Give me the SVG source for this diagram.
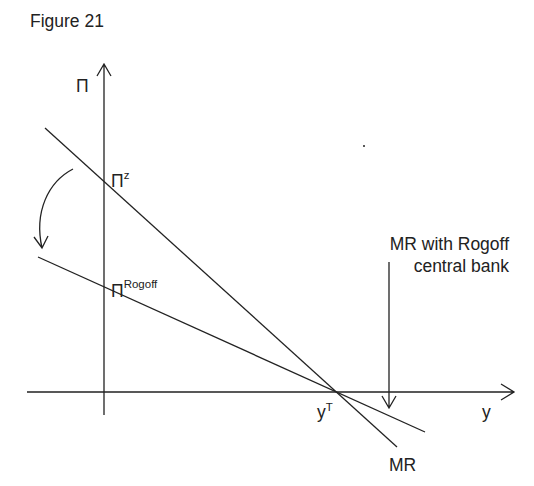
<svg xmlns="http://www.w3.org/2000/svg" width="534" height="486" viewBox="0 0 534 486">
<style>
.ln{stroke:#222;stroke-width:1.3;fill:none}
text{font-family:"Liberation Sans",Arial,sans-serif;fill:#222;font-size:17.5px}
.sup{font-size:11.5px}
</style>
<rect width="534" height="486" fill="#fff"/>
<g id="connectors">
<path id="y-axis" class="ln" d="M104,415 V64 M97,76 L104,64 L111,76"/>
<path id="x-axis" class="ln" d="M27,392 H514 M501,384 L514,392 L501,400"/>
<path id="mr-line" class="ln" d="M45,128 L397,447"/>
<path id="rogoff-line" class="ln" d="M38,257 L425,432"/>
<path id="rotate-arrow" class="ln" d="M73,169 C48,182 34,212 42,248 M34,237 L42,248 L48,236"/>
<path id="rogoff-pointer" class="ln" d="M389,262 V408 M382,396 L389,408 L396,396"/>
</g>
<circle cx="364" cy="146" r="1" fill="#222"/>
<g id="labels">
<text x="30" y="27">Figure 21</text>
<text x="76" y="92">Π</text>
<text x="111" y="187">Π<tspan class="sup" dy="-8">z</tspan></text>
<text x="111" y="297">Π<tspan class="sup" dy="-9">Rogoff</tspan></text>
<text x="509" y="250" text-anchor="end">MR with Rogoff</text>
<text x="509" y="272" text-anchor="end">central bank</text>
<text x="317" y="418">y<tspan class="sup" dy="-7">T</tspan></text>
<text x="482" y="418">y</text>
<text x="389" y="471">MR</text>
</g>
</svg>
